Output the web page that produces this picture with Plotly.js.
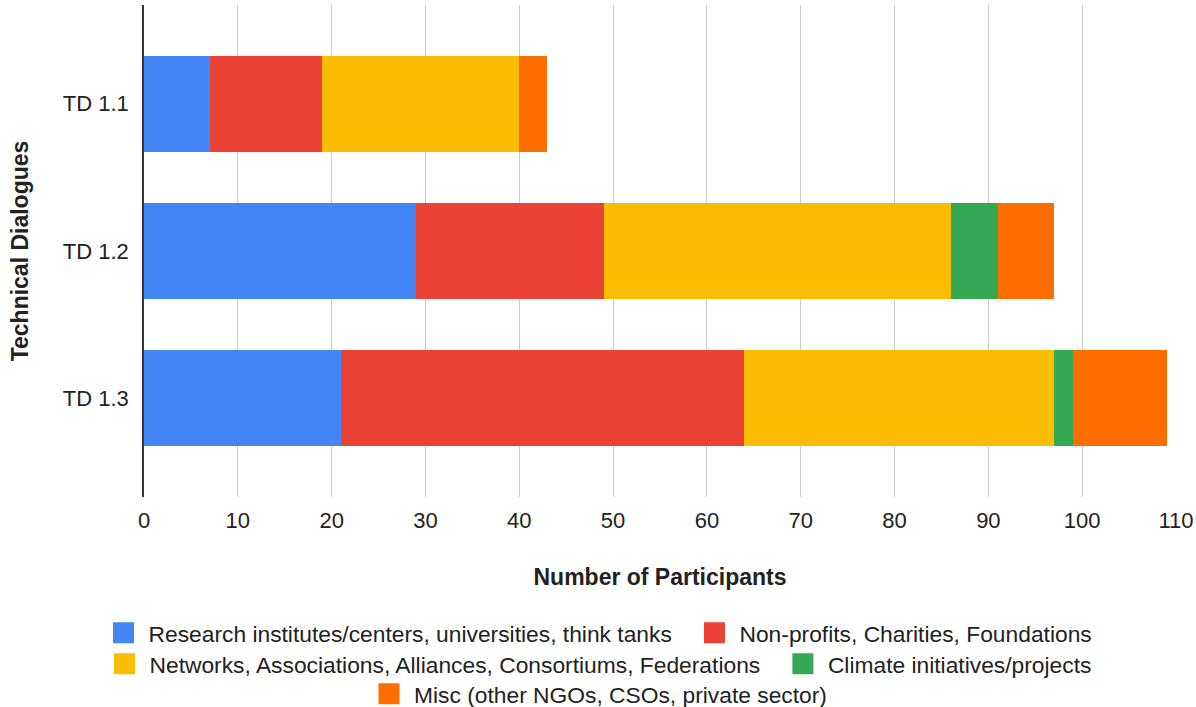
<!DOCTYPE html>
<html>
<head>
<meta charset="utf-8">
<script src="https://cdn.plot.ly/plotly-3.0.1.min.js"></script>
<style>
  html, body { margin: 0; padding: 0; background: #fff; }
  #chart { width: 1196px; height: 707px; }
</style>
</head>
<body>
<div id="chart"></div>
<script>
// ---- Data ----
const categories = ["TD 1.1", "TD 1.2", "TD 1.3"];
const seriesNames = [
  "Research institutes/centers, universities, think tanks",
  "Non-profits, Charities, Foundations",
  "Networks, Associations, Alliances, Consortiums, Federations",
  "Climate initiatives/projects",
  "Misc (other NGOs, CSOs, private sector)"
];
const research = [7, 29, 21];
const nonprofits = [12, 20, 43];
const networks = [21, 37, 33];
const climate = [0, 5, 2];
const misc = [3, 6, 10];
const xTicks = [0, 10, 20, 30, 40, 50, 60, 70, 80, 90, 100, 110];

// ---- Styles ----
const colors = ["#4285F4", "#EA4335", "#FBBC04", "#34A853", "#FF6D01"];
const legendOf = ["legend", "legend", "legend2", "legend2", "legend3"];
const trailingGap = [true, false, true, false, false];
const seriesValues = [research, nonprofits, networks, climate, misc];
const FONT = "Liberation Sans, Arial, Helvetica, sans-serif";

const traces = [];
seriesValues.forEach((vals, i) => {
  traces.push({
    type: "bar",
    orientation: "h",
    name: seriesNames[i],
    y: categories,
    x: vals,
    marker: { color: colors[i], line: { width: 0 } },
    showlegend: false,
    hoverinfo: "x+name"
  });
});
// legend-only entries (larger swatches)
seriesValues.forEach((vals, i) => {
  traces.push({
    type: "scatter",
    mode: "markers",
    name: seriesNames[i] + (trailingGap[i] ? "\u00A0\u00A0" : ""),
    x: [null],
    y: [null],
    marker: { symbol: "square", size: 16, color: colors[i], line: { width: 5, color: colors[i] } },
    legend: legendOf[i],
    showlegend: true,
    hoverinfo: "skip"
  });
});

const legendBase = {
  orientation: "h",
  traceorder: "normal",
  xref: "container",
  yref: "container",
  x: 0.5,
  xanchor: "center",
  yanchor: "middle",
  font: { family: FONT, size: 22.8, color: "#222" },
  bgcolor: "rgba(0,0,0,0)",
  itemwidth: 40,
  itemclick: false,
  itemdoubleclick: false
};

const layout = {
  width: 1196,
  height: 707,
  margin: { l: 144, r: 20, t: 5, b: 210 },
  paper_bgcolor: "#ffffff",
  plot_bgcolor: "#ffffff",
  barmode: "stack",
  bargap: 0.35,
  font: { family: FONT, color: "#222" },
  xaxis: {
    range: [0, 110],
    tickvals: xTicks,
    ticktext: xTicks.map(String),
    showgrid: true,
    gridcolor: "#cccccc",
    gridwidth: 1,
    zeroline: false,
    showline: false,
    ticks: "outside",
    ticklen: 4,
    tickcolor: "rgba(0,0,0,0)",
    tickfont: { family: FONT, size: 22, color: "#222" },
    title: { text: "<b>Number of Participants</b>", font: { family: FONT, size: 23, color: "#222" }, standoff: 36 },
    automargin: false,
    fixedrange: true
  },
  yaxis: {
    type: "category",
    categoryorder: "array",
    categoryarray: categories,
    range: [2.67, -0.67],
    showgrid: false,
    zeroline: false,
    showline: true,
    linecolor: "#333333",
    linewidth: 1.5,
    ticks: "outside",
    ticklen: 9,
    tickcolor: "rgba(0,0,0,0)",
    tickfont: { family: FONT, size: 22, color: "#222" },
    title: { text: "<b>Technical Dialogues</b>", font: { family: FONT, size: 23, color: "#222" }, standoff: 28 },
    automargin: false,
    fixedrange: true
  },
  legend: Object.assign({}, legendBase, { y: 1 - 633 / 707 }),
  legend2: Object.assign({}, legendBase, { y: 1 - 664 / 707 }),
  legend3: Object.assign({}, legendBase, { y: 1 - 694 / 707 }),
  showlegend: true
};

Plotly.newPlot("chart", traces, layout, { displayModeBar: false, staticPlot: false, responsive: false });
</script>
</body>
</html>
